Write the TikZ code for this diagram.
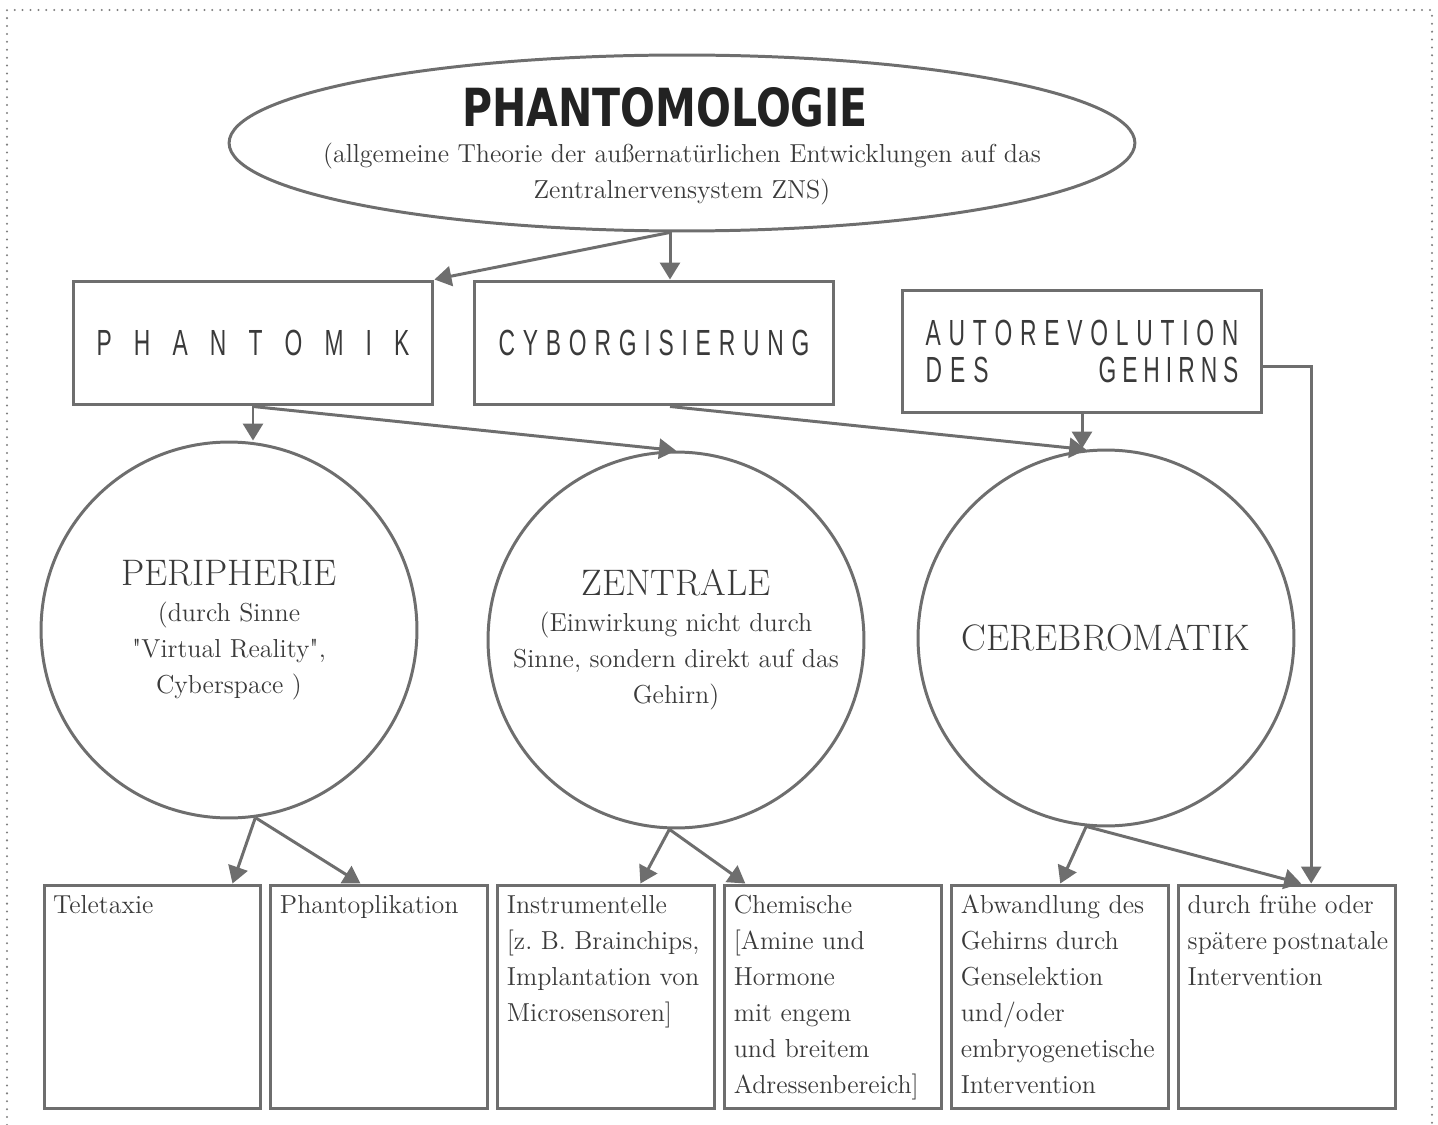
\documentclass[tikz,border=0pt]{standalone}
\usepackage{fontspec}
\usepackage{graphicx}
\usetikzlibrary{positioning, arrows.meta, shapes.geometric}
\newfontfamily\stencilfont{Liberation Sans}
\newfontfamily\titlefont{DejaVu Sans}
\definecolor{linegray}{HTML}{6E6E6E}
\definecolor{textgray}{HTML}{3A3A3A}
\definecolor{inkgray}{HTML}{222222}
\newcommand\stencil[1]{\scalebox{1.3}[2.07]{\fontsize{10}{12}\stencilfont #1}}
% spread the letters of a word over a given width
\newcommand\spread[2]{\makebox[#1][s]{\spreadfirst#2\relax}}
\def\spreadfirst#1{\ifx#1\relax\else\stencil{#1}\expandafter\spreadnext\fi}
\def\spreadnext#1{\ifx#1\relax\else\hfill\stencil{#1}\expandafter\spreadnext\fi}
\newcommand\leaftext[1]{\parbox[c][4.08cm][t]{3.98cm}{\raggedright\hyphenpenalty=10000\exhyphenpenalty=10000 #1}}
\tikzset{
	conn/.style={draw=linegray, line width=1.7pt, -{Triangle[length=0.34cm,width=0.4cm]}},
	label box/.style={
		rectangle,
		draw=linegray,
		line width=1.7pt,
		minimum width=7.2cm,
		minimum height=2.48cm,
		inner sep=0pt,
		text=textgray
	},
	field/.style={
		circle,
		draw=linegray,
		line width=1.7pt,
		minimum size=7.52cm,
		inner sep=0pt,
		align=center,
		text=textgray,
		font=\fontsize{14.8}{20.5}\selectfont
	},
	leaf/.style={
		rectangle,
		draw=linegray,
		line width=1.7pt,
		minimum width=4.34cm,
		minimum height=4.48cm,
		inner xsep=0.18cm,
		inner ysep=0.2cm,
		text=textgray,
		font=\fontsize{14.8}{20.5}\selectfont
	},
	border/.style={draw=gray, line width=1.3pt, line cap=round, dash pattern=on 0pt off 4.5pt}
}
\begin{document}
\begin{tikzpicture}[x=0.02cm, y=-0.02cm]
	\useasboundingbox (0,0) rectangle (1438,1125);
	\draw[border] (7,1125) -- (7,10) -- (1432,10) -- (1432,1125);
	% theory on top
	\node[ellipse, draw=linegray, line width=1.7pt, minimum width=18.12cm, minimum height=3.52cm,
		inner sep=0pt, text=textgray, font=\fontsize{14.8}{20.5}\selectfont] (ell) at (682,143)
		{\makebox[0pt]{\smash{\raisebox{-6.5pt}{\begin{tabular}{@{}c@{}}
		 \makebox[8.8cm][l]{\resizebox{8.12cm}{0.78cm}{\color{inkgray}\titlefont\bfseries PHANTOMOLOGIE}}\\
		 (allgemeine Theorie der außernatürlichen Entwicklungen auf das\\
		 Zentralnervensystem ZNS)
		 \end{tabular}}}}};
	% three fields
	\node[label box] (phm) at (253,343) {\spread{6.26cm}{PHANTOMIK}};
	\node[label box] (cyb) at (654,343) {\spread{6.22cm}{CYBORGISIERUNG}};
	\node[label box, minimum height=2.46cm, align=center] (aut) at (1082,351.5)
		{\spread{6.26cm}{AUTOREVOLUTION}\\[5pt]
		 \makebox[6.26cm][s]{\spread{1.26cm}{DES}\hfill\spread{2.8cm}{GEHIRNS}}};
	% circles
	\node[field] (per) at (229,630) {{\fontsize{21}{24}\selectfont PERIPHERIE}\\ (durch Sinne\\ \textquotedbl Virtual Reality\textquotedbl,\\ Cyberspace )};
	\node[field] (zen) at (676,640) {{\fontsize{21}{24}\selectfont ZENTRALE}\\ (Einwirkung nicht durch\\ Sinne, sondern direkt auf das\\ Gehirn)};
	\node[field] (cer) at (1106,638) {{\fontsize{21}{24}\selectfont CEREBROMATIK}};
	% bottom row
	\node[leaf] (b1) at (152.5,997) {\leaftext{Teletaxie}};
	\node[leaf, right=0.14cm of b1] (b2) {\leaftext{Phantoplikation}};
	\node[leaf, right=0.14cm of b2] (b3) {\leaftext{Instrumentelle\\ {[}z.~B. Brainchips,\\ Implantation~von\\ Microsensoren]}};
	\node[leaf, right=0.14cm of b3] (b4) {\leaftext{Chemische\\ {[}Amine und\\ Hormone\\ mit engem\\ und breitem\\ Adressenbereich]}};
	\node[leaf, right=0.14cm of b4] (b5) {\leaftext{Abwandlung~des\\ Gehirns durch\\ Genselektion\\ und/oder\\ embryogenetische\\ Intervention}};
	\node[leaf, right=0.14cm of b5] (b6) {\leaftext{durch~frühe~oder\\ spätere~postnatale\\ Intervention}};
	% connectors
	\coordinate (split) at ([xshift=-0.24cm]ell.south);
	\draw[conn] (split) -- (phm.north east);
	\draw[conn] (split) -- (split |- cyb.north);
	\draw[conn] (phm.south) -- (phm.south |- per.north);
	\draw[conn] (phm.south) -- (zen.north);
	\draw[conn] ([xshift=0.32cm]cyb.south) -- (cer.96);
	\draw[conn] (aut.south) -- (aut.south |- cer.north);
	\draw[conn] ([yshift=-0.3cm]aut.east) -| ([xshift=0.48cm]b6.north);
	\draw[conn] (per.-82) -- ([xshift=1.6cm]b1.north);
	\draw[conn] (per.-82) -- ([xshift=-0.38cm]b2.north);
	\draw[conn] (zen.-92) -- ([xshift=0.68cm]b3.north);
	\draw[conn] (zen.-92) -- ([xshift=-1.76cm]b4.north);
	\draw[conn] (cer.-96) -- (b5.north);
	\draw[conn] (cer.-96) -- ([xshift=0.28cm]b6.north);
\end{tikzpicture}
\end{document}
